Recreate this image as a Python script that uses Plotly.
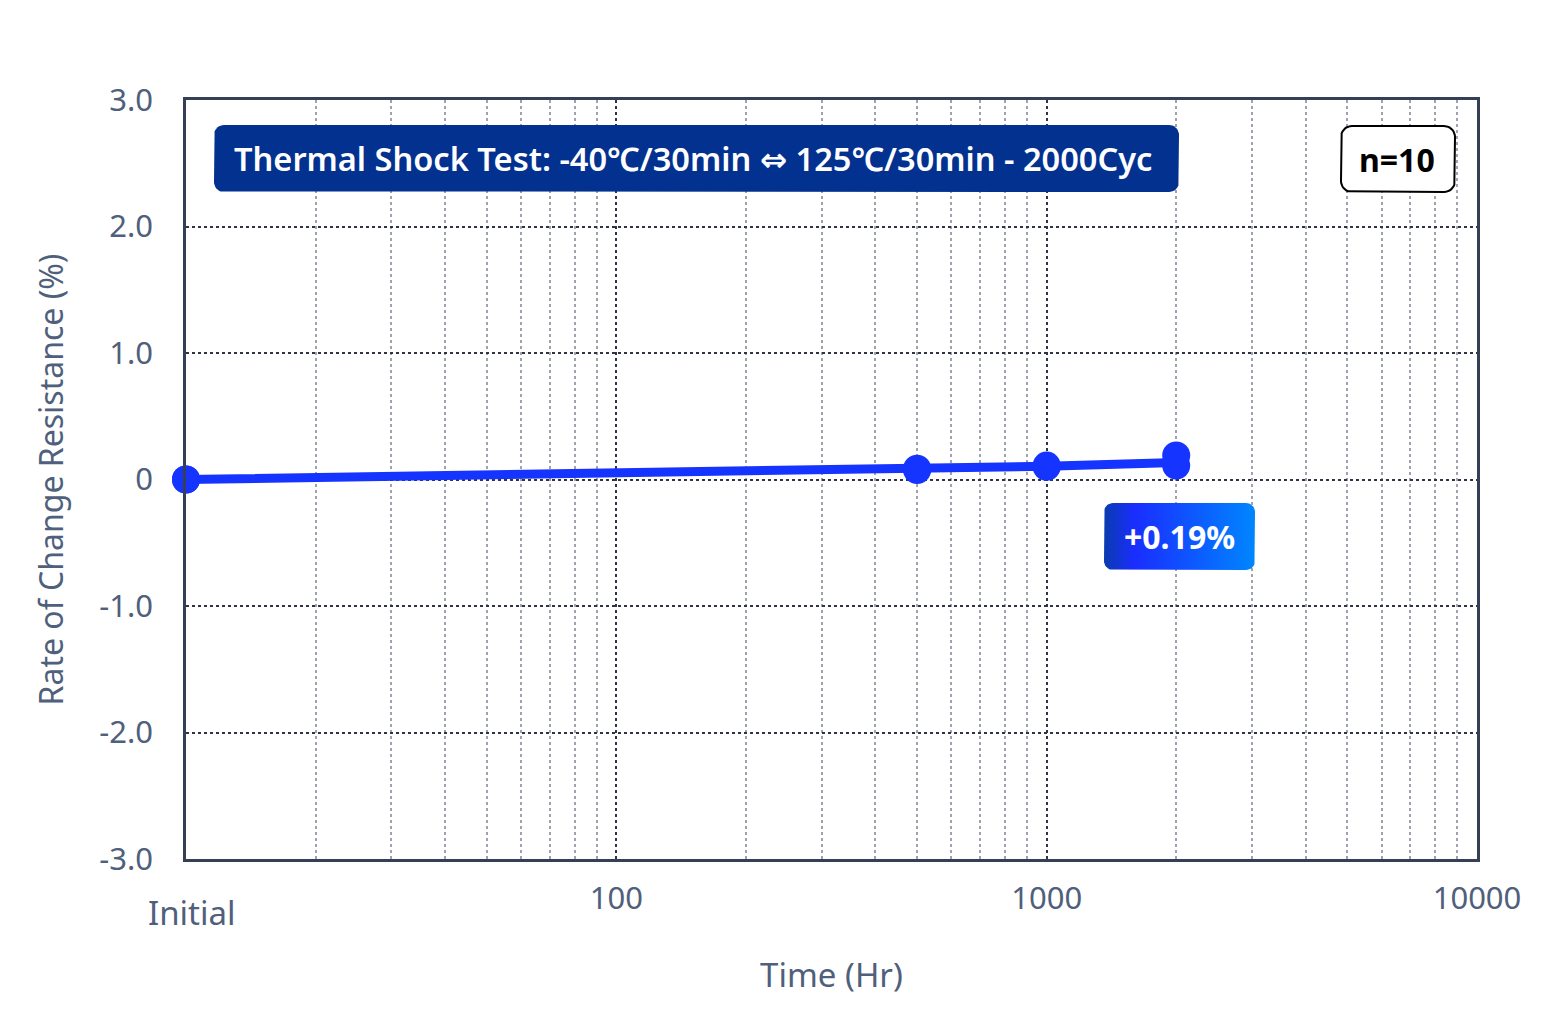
import numpy as np
import plotly.graph_objects as go

# data
times = [10, 500, 1000, 2000]            # Hr (10 = Initial)
mean_change = [0.0, 0.08, 0.105, 0.135]  # %
max_change = [0.0, 0.085, 0.11, 0.19]
min_change = [0.0, 0.075, 0.10, 0.11]

y_ticks = [-3, -2, -1, 0, 1, 2, 3]
y_ticktext = ['-3.0', '-2.0', '-1.0', '0', '1.0', '2.0', '3.0']
x_ticks = [100, 1000, 10000]
x_ticktext = ['100', '1000', '10000']

title_text = ('Thermal Shock Test: -40℃/30min '
              '<span style="font-family:\'DejaVu Sans\'">⇔</span>'
              ' 125℃/30min - 2000Cyc')
n_text = 'n=10'
max_text = '+0.19%'

FONT = 'Noto Sans'
LINE_BLUE = '#1634ff'
TICK_GREY = '#4f5f7c'
AXIS_DARK = '#353f55'

# plot area in pixels (page is offset a little in the browser)
W, H = 1560, 1030
L, T = 178, 92
PW, PH = 1291, 759
R, B = W - L - PW, H - T - PH


def rounded_box(x0, y0, x1, y1, r, n=10):
    # polygon of a rounded rectangle in pixel coords of the plot area (y down)
    xs, ys = [], []
    corners = [(x1 - r, y0 + r, -90), (x1 - r, y1 - r, 0),
               (x0 + r, y1 - r, 90), (x0 + r, y0 + r, 180)]
    for cx, cy, a0 in corners:
        a = np.radians(np.linspace(a0, a0 + 90, n))
        xs += list(cx + r * np.cos(a))
        ys += list(cy + r * np.sin(a))
    return xs + xs[:1], ys + ys[:1]


fig = go.Figure()

# line through the mean values
fig.add_trace(go.Scatter(x=times, y=mean_change, mode='lines',
                         line=dict(color=LINE_BLUE, width=9),
                         cliponaxis=False, hoverinfo='skip', showlegend=False))

# markers of the samples (max / min)
for vals in (min_change, max_change):
    fig.add_trace(go.Scatter(x=times, y=vals, mode='markers',
                             marker=dict(color=LINE_BLUE, size=28),
                             cliponaxis=False, showlegend=False))

# boxes drawn on a hidden pixel overlay
bx, by = rounded_box(28, 25, 993, 92, 10)
fig.add_trace(go.Scatter(x=bx, y=by, xaxis='x2', yaxis='y2', mode='lines',
                         fill='toself', fillcolor='#03318f', line=dict(width=0),
                         hoverinfo='skip', showlegend=False))

bx, by = rounded_box(1155, 26, 1269, 92, 11)
fig.add_trace(go.Scatter(x=bx, y=by, xaxis='x2', yaxis='y2', mode='lines',
                         fill='toself', fillcolor='white',
                         line=dict(color='black', width=2),
                         hoverinfo='skip', showlegend=False))

bx, by = rounded_box(918, 403, 1069, 470, 9)
fig.add_trace(go.Scatter(x=bx, y=by, xaxis='x2', yaxis='y2', mode='lines',
                         fill='toself', line=dict(width=0),
                         fillgradient=dict(type='horizontal',
                                           colorscale=[[0, '#0a3cae'], [0.2, '#1a2dff'],
                                                       [1, '#0086ff']]),
                         hoverinfo='skip', showlegend=False))

fig.add_annotation(x=507, y=58.5, xref='x2', yref='y2', text=title_text, showarrow=False,
                   font=dict(family=FONT, size=32.6, color='white', weight=600))
fig.add_annotation(x=1211, y=59, xref='x2', yref='y2', text=n_text, showarrow=False,
                   font=dict(family=FONT, size=32, color='black', weight=700))
fig.add_annotation(x=993, y=436.5, xref='x2', yref='y2', text=max_text, showarrow=False,
                   font=dict(family=FONT, size=32, color='white', weight=700))

# "Initial" label under the left edge
fig.add_annotation(x=1, y=-53 / PH, xref='x', yref='paper', text='Initial',
                   showarrow=False, xanchor='center', yanchor='middle', xshift=6,
                   font=dict(family=FONT, size=33, color=TICK_GREY))

fig.update_layout(
    width=W, height=H,
    margin=dict(l=L, r=R, t=T, b=B),
    paper_bgcolor='white', plot_bgcolor='white',
    font=dict(family=FONT, size=31, color=TICK_GREY),
    xaxis=dict(type='log', range=[1, 4],
               tickvals=x_ticks, ticktext=x_ticktext,
               ticks='', ticklabelstandoff=10,
               showline=True, mirror=True, linecolor=AXIS_DARK, linewidth=2.5,
               showgrid=True, gridcolor='#2e3446', gridwidth=2, griddash='dot',
               minor=dict(dtick='D1', showgrid=True, gridcolor='#9ea3ad',
                          gridwidth=2, griddash='dot'),
               zeroline=False,
               title=dict(text='Time (Hr)', standoff=47,
                          font=dict(family=FONT, size=33, color=TICK_GREY))),
    yaxis=dict(range=[-3, 3], tickvals=y_ticks, ticktext=y_ticktext,
               ticks='', ticklabelstandoff=24,
               showline=True, mirror=True, linecolor=AXIS_DARK, linewidth=2.5,
               showgrid=True, gridcolor='#2e3446', gridwidth=2, griddash='dot',
               zeroline=False,
               title=dict(text='Rate of Change Resistance (%)', standoff=27,
                          font=dict(family=FONT, size=32, color=TICK_GREY))),
    xaxis2=dict(overlaying='x', anchor='y2', range=[0, PW], visible=False,
                fixedrange=True),
    yaxis2=dict(overlaying='y', anchor='x2', range=[PH, 0], visible=False,
                fixedrange=True),
)

fig.write_html('out.html')
